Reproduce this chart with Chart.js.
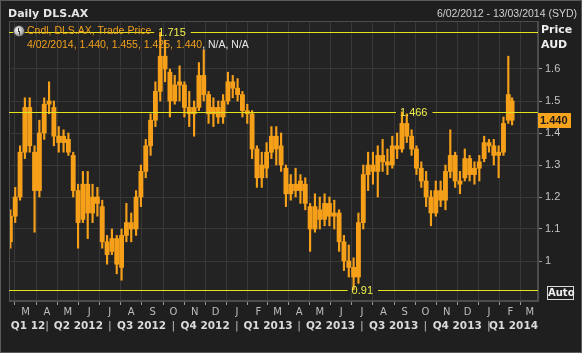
<!DOCTYPE html>
<html>
<head>
<meta charset="utf-8">
<title>Daily DLS.AX</title>
<script src="https://cdn.jsdelivr.net/npm/chart.js@4.4.1/dist/chart.umd.min.js"></script>
<style>
  html, body { margin: 0; padding: 0; background: #1f1f1f; }
  #wrap { position: relative; width: 582px; height: 353px; overflow: hidden; background: #1f1f1f; }
  #wrap canvas { position: absolute; left: 0; top: 0; }
  .txt { position: absolute; white-space: nowrap; line-height: 12px; }
  #title { left: 8px; top: 7px; font: bold 11px "DejaVu Sans", sans-serif; color: #e6e6e6; }
  #range { right: 5px; top: 7px; font: 10.5px "Liberation Sans", sans-serif; color: #cfcfcf; }
  #leg1 { left: 27px; top: 24px; font: 10.5px "Liberation Sans", sans-serif; color: #f2a11e; }
  #leg2 { left: 27px; top: 38px; font: 10.5px "Liberation Sans", sans-serif; color: #f2a11e; }
  #leg2 span { color: #e8e8e8; }
  #clock { position: absolute; left: 13px; top: 25px; width: 10px; height: 10px; border-radius: 50%;
           background: radial-gradient(circle at 40% 40%, #ffffff, #9a9a9a 70%); border: 1px solid #3c3c3c; }
  #clock::after { content: ""; position: absolute; left: 4px; top: 2px; width: 1px; height: 4px; background: #333;
                  box-shadow: 1px 3px 0 0 #333; }
  #price { left: 541px; top: 23px; font: bold 11px "DejaVu Sans", sans-serif; color: #eeeeee; }
  #aud { left: 541px; top: 38px; font: bold 11px "DejaVu Sans", sans-serif; color: #eeeeee; }
  #auto { position: absolute; left: 547px; top: 286px; width: 25px; height: 12px; border: 1px solid #d8d8d8;
          font: bold 10px "DejaVu Sans", sans-serif; color: #eeeeee; line-height: 12px; text-align: center; }
  #frame { position: absolute; left: 0; top: 0; width: 580px; height: 351px; border: 1px solid #5a5a5a; pointer-events: none; }
</style>
</head>
<body>
<div id="wrap">
  <canvas id="chart" width="582" height="353"></canvas>
  <div class="txt" id="title">Daily DLS.AX</div>
  <div class="txt" id="range">6/02/2012 - 13/03/2014 (SYD)</div>
  <div id="clock"></div>
  <div class="txt" id="leg1">Cndl, DLS.AX, Trade Price</div>
  <div class="txt" id="leg2">4/02/2014, 1.440, 1.455, 1.425, 1.440<span>, N/A, N/A</span></div>
  <div class="txt" id="price">Price</div>
  <div class="txt" id="aud">AUD</div>
  <div id="auto">Auto</div>
  <div id="frame"></div>
</div>
<script>
/* ── Data: weekly candles (weeks from Mon 6 Feb 2012) ── */
var weekOpen = [
  1.06, 1.14, 1.20, 1.34, 1.48, 1.34, 1.22, 1.40, 1.49, 1.48,
  1.39, 1.37, 1.38, 1.33, 1.22, 1.13, 1.24, 1.15, 1.20, 1.17,
  1.06, 1.03, 1.07, 0.98, 1.08, 1.12, 1.10, 1.20, 1.28, 1.36,
  1.44, 1.53, 1.64, 1.59, 1.50, 1.55, 1.55, 1.48, 1.46, 1.48,
  1.58, 1.52, 1.46, 1.48, 1.45, 1.50, 1.56, 1.54, 1.52, 1.47,
  1.46, 1.35, 1.26, 1.29, 1.34, 1.39, 1.36, 1.29, 1.21, 1.24,
  1.22, 1.24, 1.17, 1.10, 1.16, 1.13, 1.18, 1.14, 1.15, 1.06,
  1.00, 0.98, 0.95, 1.12, 1.27, 1.30, 1.28, 1.33, 1.31, 1.30,
  1.36, 1.35, 1.43, 1.39, 1.35, 1.29, 1.25, 1.20, 1.15, 1.22,
  1.19, 1.28, 1.33, 1.25, 1.26, 1.32, 1.27, 1.29, 1.32, 1.37,
  1.36, 1.33, 1.34, 1.44, 1.50
];
var weekHigh = [
  1.16, 1.23, 1.36, 1.51, 1.51, 1.36, 1.44, 1.51, 1.56, 1.50,
  1.42, 1.41, 1.40, 1.34, 1.24, 1.28, 1.28, 1.24, 1.23, 1.19,
  1.08, 1.10, 1.08, 1.10, 1.18, 1.15, 1.22, 1.30, 1.38, 1.46,
  1.56, 1.715, 1.69, 1.60, 1.58, 1.61, 1.56, 1.53, 1.50, 1.62,
  1.66, 1.53, 1.51, 1.50, 1.52, 1.59, 1.58, 1.57, 1.53, 1.49,
  1.47, 1.36, 1.34, 1.37, 1.42, 1.42, 1.40, 1.30, 1.27, 1.29,
  1.27, 1.26, 1.18, 1.21, 1.20, 1.21, 1.20, 1.19, 1.16, 1.08,
  1.05, 1.01, 1.15, 1.30, 1.34, 1.34, 1.36, 1.38, 1.35, 1.39,
  1.40, 1.466, 1.46, 1.41, 1.36, 1.31, 1.28, 1.22, 1.25, 1.25,
  1.30, 1.41, 1.34, 1.28, 1.35, 1.33, 1.31, 1.33, 1.39, 1.38,
  1.38, 1.36, 1.45, 1.64, 1.51
];
var weekLow = [
  1.04, 1.12, 1.19, 1.32, 1.34, 1.09, 1.20, 1.38, 1.46, 1.36,
  1.34, 1.34, 1.33, 1.20, 1.04, 1.12, 1.07, 1.12, 1.14, 1.04,
  0.99, 1.02, 0.96, 0.94, 1.06, 1.06, 1.08, 1.17, 1.26, 1.33,
  1.42, 1.50, 1.56, 1.45, 1.49, 1.50, 1.45, 1.42, 1.39, 1.47,
  1.50, 1.43, 1.42, 1.43, 1.43, 1.49, 1.51, 1.50, 1.45, 1.43,
  1.32, 1.23, 1.23, 1.26, 1.32, 1.30, 1.28, 1.17, 1.19, 1.20,
  1.18, 1.16, 1.03, 1.09, 1.10, 1.11, 1.11, 1.10, 1.03, 0.97,
  0.95, 0.91, 0.93, 1.10, 1.22, 1.24, 1.20, 1.28, 1.27, 1.29,
  1.32, 1.34, 1.37, 1.33, 1.27, 1.23, 1.17, 1.11, 1.14, 1.17,
  1.16, 1.26, 1.23, 1.21, 1.25, 1.25, 1.24, 1.25, 1.31, 1.34,
  1.30, 1.26, 1.33, 1.43, 1.425
];
var weekClose = [
  1.14, 1.20, 1.34, 1.48, 1.36, 1.22, 1.40, 1.49, 1.50, 1.39,
  1.37, 1.39, 1.34, 1.22, 1.12, 1.24, 1.15, 1.20, 1.18, 1.06,
  1.02, 1.07, 0.99, 1.08, 1.12, 1.10, 1.20, 1.28, 1.36, 1.44,
  1.53, 1.64, 1.60, 1.50, 1.55, 1.56, 1.48, 1.46, 1.48, 1.58,
  1.52, 1.46, 1.48, 1.45, 1.50, 1.56, 1.54, 1.52, 1.47, 1.46,
  1.35, 1.26, 1.30, 1.34, 1.39, 1.35, 1.30, 1.21, 1.24, 1.22,
  1.25, 1.18, 1.10, 1.17, 1.13, 1.18, 1.14, 1.15, 1.06, 1.00,
  0.98, 0.95, 1.12, 1.27, 1.30, 1.28, 1.33, 1.31, 1.30, 1.36,
  1.35, 1.43, 1.39, 1.35, 1.29, 1.25, 1.20, 1.15, 1.22, 1.19,
  1.28, 1.33, 1.25, 1.24, 1.32, 1.27, 1.29, 1.31, 1.37, 1.36,
  1.33, 1.34, 1.43, 1.52, 1.44
];
var monthLetters = ["M", "A", "M", "J", "J", "A", "S", "O", "N", "D", "J", "F",
                    "M", "A", "M", "J", "J", "A", "S", "O", "N", "D", "J", "F", "M"];
var quarterNames = ["Q1 12", "Q2 2012", "Q3 2012", "Q4 2012", "Q1 2013",
                    "Q2 2013", "Q3 2013", "Q4 2013", "Q1 2014"];
var priceTicks = [1, 1.1, 1.2, 1.3, 1.4, 1.5, 1.6];
var refLevels = [1.715, 1.466, 0.91];
var refLabels = ["1.715", "1.466", "0.91"];
var lastLabel = "1.440";

(function () {
  "use strict";

  var ORANGE = "#f6a01a";
  var YELLOW = "#e4e41c";
  var start = Date.UTC(2012, 1, 6);
  function dayOf(y, m, d) { return (Date.UTC(y, m, d) - start) / 864e5; }
  var lastDay = dayOf(2014, 2, 13);

  // x position (days) of each weekly candle, mid-week; last week only Mon-Tue
  var weekX = weekOpen.map(function (_, k) {
    return k === weekOpen.length - 1 ? k * 7 + 0.5 : k * 7 + 2;
  });
  var monthDays = monthLetters.map(function (_, i) { return dayOf(2012, 2 + i, 1); });
  var quarterEdges = [0];
  for (var q = 0; q < quarterNames.length - 1; q++) quarterEdges.push(dayOf(2012, 3 + q * 3, 1));
  quarterEdges.push(lastDay);

  var wicks = weekX.map(function (x, i) { return { x: x, y: [weekLow[i], weekHigh[i]] }; });
  var bodies = weekX.map(function (x, i) { return { x: x, y: [weekOpen[i], weekClose[i]] }; });

  /* ── Background, frame, reference lines, quarter row, last price tag ── */
  var decor = {
    id: "decor",
    beforeDraw: function (chart) {
      var a = chart.chartArea, c = chart.ctx;
      c.save();
      c.fillStyle = "#232323";
      c.fillRect(a.left, a.top, a.right - a.left, a.bottom - a.top);
      c.restore();
    },
    afterDatasetsDraw: function (chart) {
      var a = chart.chartArea, c = chart.ctx;
      var xs = chart.scales.x, ys = chart.scales.y;
      c.save();
      c.strokeStyle = "#4c4c4c";
      c.lineWidth = 1;
      c.strokeRect(a.left + 0.5, a.top + 0.5, a.right - a.left - 1, a.bottom - a.top - 1);

      c.font = "11px 'Liberation Sans', sans-serif";
      c.textBaseline = "middle";
      refLevels.forEach(function (lv, i) {
        var idx = weekHigh.indexOf(lv);
        if (idx < 0) idx = weekLow.indexOf(lv);
        var y = Math.round(ys.getPixelForValue(lv)) + 0.5;
        var tx = xs.getPixelForValue(weekX[idx]) - 2;
        var w = c.measureText(refLabels[i]).width;
        c.strokeStyle = YELLOW;
        c.beginPath();
        c.moveTo(a.left, y); c.lineTo(tx - 4, y);
        c.moveTo(tx + w + 5, y); c.lineTo(a.right, y);
        c.stroke();
        c.fillStyle = "#f0f04a";
        c.fillText(refLabels[i], tx, y);
      });

      // last price tag on the axis
      var ly = ys.getPixelForValue(weekClose[weekClose.length - 1]);
      c.fillStyle = "#f7a31c";
      c.fillRect(a.right, Math.round(ly) - 7, 33, 15);
      c.fillStyle = "#1a1a1a";
      c.font = "bold 11px 'Liberation Sans', sans-serif";
      c.textAlign = "left";
      c.fillText(lastLabel, a.right + 2, Math.round(ly) + 1);

      // quarter row
      c.font = "bold 10.5px 'DejaVu Sans', sans-serif";
      c.fillStyle = "#dadada";
      c.textAlign = "center";
      var qy = 326;
      quarterNames.forEach(function (name, i) {
        var x0 = Math.max(a.left, xs.getPixelForValue(quarterEdges[i]));
        var x1 = Math.min(a.right, xs.getPixelForValue(quarterEdges[i + 1]));
        c.fillText(name, (x0 + x1) / 2, qy);
      });
      c.font = "11px 'DejaVu Sans', sans-serif";
      c.fillStyle = "#bdbdbd";
      for (var j = 1; j < quarterEdges.length - 1; j++) {
        c.fillText("|", xs.getPixelForValue(quarterEdges[j]), qy);
      }
      c.restore();
    }
  };

  new Chart(document.getElementById("chart"), {
    type: "bar",
    data: {
      datasets: [{
        data: wicks,
        backgroundColor: ORANGE,
        barThickness: 1.5,
        grouped: false
      }, {
        data: bodies,
        backgroundColor: ORANGE,
        barThickness: 4.2,
        minBarLength: 1,
        grouped: false
      }]
    },
    options: {
      responsive: false,
      animation: false,
      devicePixelRatio: 1,
      layout: { padding: { left: 9, top: 21, right: 0, bottom: 0 } },
      plugins: { legend: { display: false }, tooltip: { enabled: false } },
      scales: {
        x: {
          type: "linear",
          min: 0,
          max: lastDay,
          offset: false,
          afterBuildTicks: function (s) { s.ticks = monthDays.map(function (v) { return { value: v }; }); },
          afterFit: function (s) { s.height = 52; },
          ticks: {
            autoSkip: false,
            maxRotation: 0,
            padding: 1,
            color: "#bdbdbd",
            font: { family: "'DejaVu Sans', sans-serif", size: 10 },
            callback: function (v, i) { return monthLetters[i]; }
          },
          grid: { color: "#383838", tickColor: "#9a9a9a", tickLength: 4 },
          border: { color: "#4c4c4c" }
        },
        y: {
          type: "linear",
          position: "right",
          min: 0.875,
          max: 1.75,
          afterBuildTicks: function (s) { s.ticks = priceTicks.map(function (v) { return { value: v }; }); },
          afterFit: function (s) { s.width = 44; },
          ticks: {
            padding: 3,
            color: "#c4c4c4",
            font: { family: "'Liberation Sans', sans-serif", size: 11 },
            callback: function (v) { return v === 1 ? "1" : v.toFixed(1); }
          },
          grid: { color: "#383838", tickColor: "#9a9a9a", tickLength: 4 },
          border: { color: "#4c4c4c" }
        }
      }
    },
    plugins: [decor]
  });
})();
</script>
</body>
</html>
